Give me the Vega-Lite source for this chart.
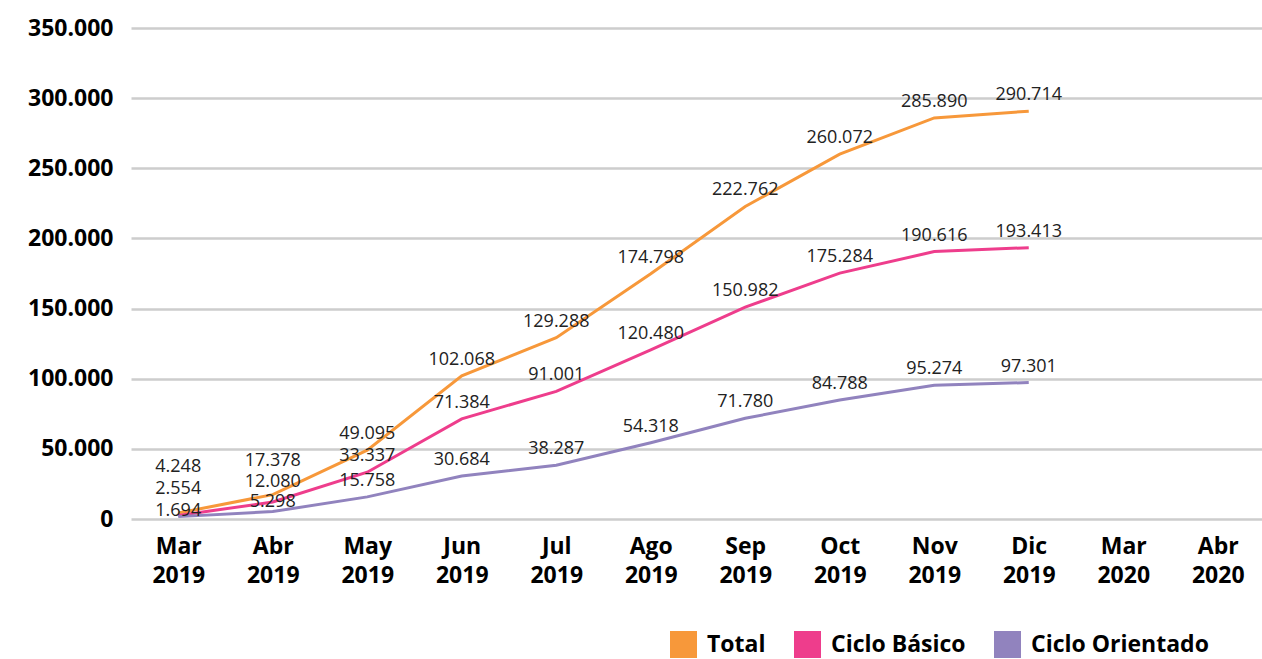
{
  "$schema": "https://vega.github.io/schema/vega-lite/v6.json",
  "width": 1134,
  "height": 491,
  "autosize": "none",
  "padding": {"left": 131, "top": 28, "right": 0, "bottom": 140},
  "background": "white",
  "config": {
    "view": {"stroke": null},
    "locale": {"number": {"decimal": ",", "thousands": ".", "grouping": [3], "currency": ["$", ""]}}
  },
  "data": {"values": [
    {"mes": "Mar 2019", "serie": "Total", "valor": 4248},
    {"mes": "Abr 2019", "serie": "Total", "valor": 17378},
    {"mes": "May 2019", "serie": "Total", "valor": 49095},
    {"mes": "Jun 2019", "serie": "Total", "valor": 102068},
    {"mes": "Jul 2019", "serie": "Total", "valor": 129288},
    {"mes": "Ago 2019", "serie": "Total", "valor": 174798},
    {"mes": "Sep 2019", "serie": "Total", "valor": 222762},
    {"mes": "Oct 2019", "serie": "Total", "valor": 260072},
    {"mes": "Nov 2019", "serie": "Total", "valor": 285890},
    {"mes": "Dic 2019", "serie": "Total", "valor": 290714},
    {"mes": "Mar 2019", "serie": "Ciclo Básico", "valor": 2554},
    {"mes": "Abr 2019", "serie": "Ciclo Básico", "valor": 12080},
    {"mes": "May 2019", "serie": "Ciclo Básico", "valor": 33337},
    {"mes": "Jun 2019", "serie": "Ciclo Básico", "valor": 71384},
    {"mes": "Jul 2019", "serie": "Ciclo Básico", "valor": 91001},
    {"mes": "Ago 2019", "serie": "Ciclo Básico", "valor": 120480},
    {"mes": "Sep 2019", "serie": "Ciclo Básico", "valor": 150982},
    {"mes": "Oct 2019", "serie": "Ciclo Básico", "valor": 175284},
    {"mes": "Nov 2019", "serie": "Ciclo Básico", "valor": 190616},
    {"mes": "Dic 2019", "serie": "Ciclo Básico", "valor": 193413},
    {"mes": "Mar 2019", "serie": "Ciclo Orientado", "valor": 1694},
    {"mes": "Abr 2019", "serie": "Ciclo Orientado", "valor": 5298},
    {"mes": "May 2019", "serie": "Ciclo Orientado", "valor": 15758},
    {"mes": "Jun 2019", "serie": "Ciclo Orientado", "valor": 30684},
    {"mes": "Jul 2019", "serie": "Ciclo Orientado", "valor": 38287},
    {"mes": "Ago 2019", "serie": "Ciclo Orientado", "valor": 54318},
    {"mes": "Sep 2019", "serie": "Ciclo Orientado", "valor": 71780},
    {"mes": "Oct 2019", "serie": "Ciclo Orientado", "valor": 84788},
    {"mes": "Nov 2019", "serie": "Ciclo Orientado", "valor": 95274},
    {"mes": "Dic 2019", "serie": "Ciclo Orientado", "valor": 97301}
  ]},
  "encoding": {
    "x": {
      "field": "mes", "type": "nominal", "sort": null,
      "scale": {"type": "point", "padding": 0.5, "domain": ["Mar 2019","Abr 2019","May 2019","Jun 2019","Jul 2019","Ago 2019","Sep 2019","Oct 2019","Nov 2019","Dic 2019","Mar 2020","Abr 2020"]},
      "axis": {
        "title": null, "domain": false, "ticks": false, "grid": false,
        "labelAngle": 0, "labelExpr": "split(datum.value, ' ')",
        "labelFont": "Open Sans", "labelFontWeight": "bold", "labelFontSize": 23,
        "labelColor": "#000000", "labelLineHeight": 29, "labelPadding": 16,
        "labelBaseline": "top"
      }
    },
    "y": {
      "field": "valor", "type": "quantitative",
      "scale": {"domain": [0, 350000], "nice": false},
      "axis": {
        "title": null, "domain": false, "ticks": false,
        "values": [0, 50000, 100000, 150000, 200000, 250000, 300000, 350000],
        "format": ",d",
        "labelFont": "Open Sans", "labelFontWeight": "bold", "labelFontSize": 23,
        "labelColor": "#000000", "labelPadding": 18,
        "gridColor": "#CDCDCD", "gridWidth": 2.5
      }
    }
  },
  "layer": [
    {
      "mark": {"type": "line", "strokeWidth": 3},
      "encoding": {
        "color": {
          "field": "serie", "type": "nominal",
          "scale": {"domain": ["Total", "Ciclo Básico", "Ciclo Orientado"], "range": ["#F7983A", "#EE3D8C", "#9183BE"]},
          "legend": {
            "title": null, "orient": "none", "direction": "horizontal",
            "legendX": 539, "legendY": 603,
            "symbolType": "square", "symbolSize": 729,
            "labelFont": "Open Sans", "labelFontWeight": "bold", "labelFontSize": 23,
            "labelColor": "#000000", "labelOffset": 10, "columnPadding": 28,
            "labelLimit": 400,
            "encode": {"symbols": {"update": {"fill": {"scale": "color", "field": "value"}, "strokeWidth": {"value": 0}, "opacity": {"value": 1}}}}
          }
        }
      }
    },
    {
      "transform": [{"filter": "datum.mes != 'Mar 2019' && datum.mes != 'Abr 2019'"}],
      "mark": {"type": "text", "dy": -16, "font": "Open Sans", "fontSize": 18, "color": "#222222"},
      "encoding": {"text": {"field": "valor", "type": "quantitative", "format": ",d"}}
    },
    {
      "transform": [{"filter": "datum.mes == 'Mar 2019' && datum.serie == 'Total'"}],
      "mark": {"type": "text", "dy": -46, "font": "Open Sans", "fontSize": 18, "color": "#222222"},
      "encoding": {"text": {"field": "valor", "type": "quantitative", "format": ",d"}}
    },
    {
      "transform": [{"filter": "datum.mes == 'Mar 2019' && datum.serie == 'Ciclo Básico'"}],
      "mark": {"type": "text", "dy": -26, "font": "Open Sans", "fontSize": 18, "color": "#222222"},
      "encoding": {"text": {"field": "valor", "type": "quantitative", "format": ",d"}}
    },
    {
      "transform": [{"filter": "datum.mes == 'Mar 2019' && datum.serie == 'Ciclo Orientado'"}],
      "mark": {"type": "text", "dy": -6, "font": "Open Sans", "fontSize": 18, "color": "#222222"},
      "encoding": {"text": {"field": "valor", "type": "quantitative", "format": ",d"}}
    },
    {
      "transform": [{"filter": "datum.mes == 'Abr 2019' && datum.serie == 'Total'"}],
      "mark": {"type": "text", "dy": -34, "font": "Open Sans", "fontSize": 18, "color": "#222222"},
      "encoding": {"text": {"field": "valor", "type": "quantitative", "format": ",d"}}
    },
    {
      "transform": [{"filter": "datum.mes == 'Abr 2019' && datum.serie == 'Ciclo Básico'"}],
      "mark": {"type": "text", "dy": -20, "font": "Open Sans", "fontSize": 18, "color": "#222222"},
      "encoding": {"text": {"field": "valor", "type": "quantitative", "format": ",d"}}
    },
    {
      "transform": [{"filter": "datum.mes == 'Abr 2019' && datum.serie == 'Ciclo Orientado'"}],
      "mark": {"type": "text", "dy": -10, "font": "Open Sans", "fontSize": 18, "color": "#222222"},
      "encoding": {"text": {"field": "valor", "type": "quantitative", "format": ",d"}}
    }
  ]
}
